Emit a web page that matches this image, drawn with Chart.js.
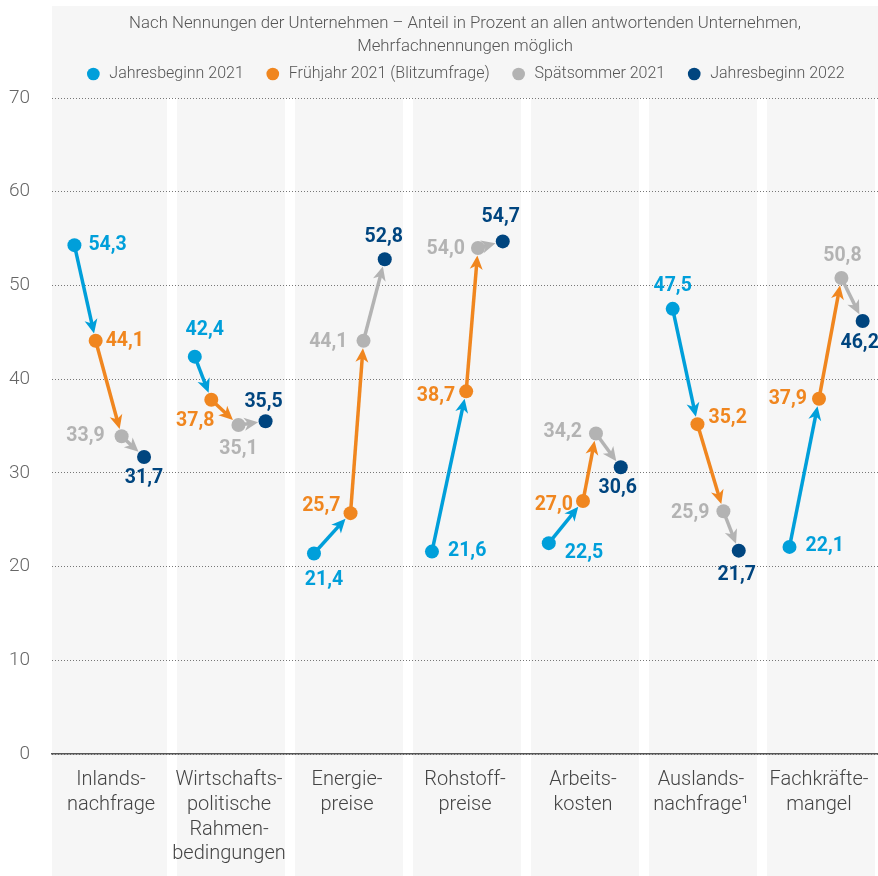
<!DOCTYPE html>
<html lang="de">
<head>
<meta charset="utf-8">
<title>Hemmnisse der Geschäftsentwicklung</title>
<script src="https://cdn.jsdelivr.net/npm/chart.js@4.4.1/dist/chart.umd.min.js"></script>
<style>
  html, body { margin: 0; padding: 0; background: #fff; }
  #wrap { width: 878px; height: 876px; position: relative; }
</style>
</head>
<body>
<div id="wrap"><canvas id="chart"></canvas></div>
<script>
// ===============================
// Daten
// ===============================
const categories = [
  ["Inlands-", "nachfrage"],
  ["Wirtschafts-", "politische", "Rahmen-", "bedingungen"],
  ["Energie-", "preise"],
  ["Rohstoff-", "preise"],
  ["Arbeits-", "kosten"],
  ["Auslands-", "nachfrage¹"],
  ["Fachkräfte-", "mangel"]
];
const seriesNames = ["Jahresbeginn 2021", "Frühjahr 2021 (Blitzumfrage)", "Spätsommer 2021", "Jahresbeginn 2022"];
const jahresbeginn2021 = [54.3, 42.4, 21.4, 21.6, 22.5, 47.5, 22.1];
const fruehjahr2021 = [44.1, 37.8, 25.7, 38.7, 27.0, 35.2, 37.9];
const spaetsommer2021 = [33.9, 35.1, 44.1, 54.0, 34.2, 25.9, 50.8];
const jahresbeginn2022 = [31.7, 35.5, 52.8, 54.7, 30.6, 21.7, 46.2];
const yTicks = [0, 10, 20, 30, 40, 50, 60, 70];
const titleLines = [
  "Nach Nennungen der Unternehmen – Anteil in Prozent an allen antwortenden Unternehmen,",
  "Mehrfachnennungen möglich"
];

// ===============================
// Layout / Stil
// ===============================
const colors = ["#009fda", "#f0861f", "#b3b3b3", "#00457f"];
const lightFont = "Roboto, 'Open Sans', sans-serif";

// horizontale Lage der Punkte innerhalb einer Kategorie (Anteil der Kategoriebreite)
const pointOffsets = [
  [-0.31, -0.13, 0.09, 0.28],
  [-0.29, -0.15, 0.08, 0.31],
  [-0.28, 0.03, 0.14, 0.32],
  [-0.28, 0.01, 0.11, 0.32],
  [-0.29, 0.00, 0.11, 0.32],
  [-0.24, -0.03, 0.19, 0.32],
  [-0.25, 0.00, 0.19, 0.37]
];

// Beschriftung je Reihe und Kategorie: [Ausrichtung, dx, dy]
const labelPlacement = [
  [["l", 14, 0], ["c", 10, -27], ["c", 10, 27], ["l", 16, 0], ["l", 16, 10], ["c", 0, -23], ["l", 16, -1]],
  [["l", 10, 0], ["c", -16, 21], ["r", -10, -7], ["r", -11, 5], ["r", -10, 4], ["l", 11, -6], ["r", -12, 0]],
  [["r", -17, 0], ["c", 0, 24], ["r", -16, 1], ["r", -13, 1], ["r", -14, -1], ["r", -14, 2], ["c", 1, -22]],
  [["c", 0, 21], ["c", -2, -19], ["c", -1, -22], ["c", -2, -24], ["c", -3, 21], ["c", -2, 24], ["c", -3, 22]]
];

const allSeries = [jahresbeginn2021, fruehjahr2021, spaetsommer2021, jahresbeginn2022];

// ===============================
// Plugins
// ===============================
const panelPlugin = {
  id: "panels",
  beforeDraw(chart) {
    const { ctx, chartArea, scales } = chart;
    const x = scales.x;
    ctx.save();
    ctx.fillStyle = "#f6f6f6";
    ctx.fillRect(chartArea.left, 6, chartArea.right - chartArea.left, chartArea.top - 6);
    categories.forEach((c, i) => {
      const a = x.getPixelForValue(i - 0.5);
      const b = x.getPixelForValue(i + 0.5);
      const x0 = i === 0 ? a : a + 7;
      ctx.fillRect(x0, chartArea.top, (b - 3) - x0, chart.height - chartArea.top);
    });
    // Untertitel, über der Zeichenfläche zentriert
    ctx.fillStyle = "#555";
    ctx.font = "300 16.8px " + lightFont;
    ctx.textAlign = "center";
    ctx.textBaseline = "middle";
    const cx = (chartArea.left + chartArea.right) / 2;
    titleLines.forEach((t, k) => ctx.fillText(t, cx, 24 + k * 23));
    ctx.restore();
  }
};

const arrowPlugin = {
  id: "arrows",
  beforeDatasetsDraw(chart) {
    const ctx = chart.ctx;
    const r = 7;
    for (let s = 0; s < allSeries.length - 1; s++) {
      const from = chart.getDatasetMeta(s).data;
      const to = chart.getDatasetMeta(s + 1).data;
      from.forEach((p, i) => {
        const q = to[i];
        const dx = q.x - p.x, dy = q.y - p.y;
        const len = Math.hypot(dx, dy);
        const ux = dx / len, uy = dy / len;
        const tipX = q.x - ux * (r + 0.5), tipY = q.y - uy * (r + 0.5);
        const headLen = 14, headW = 6.5;
        const baseX = tipX - ux * headLen, baseY = tipY - uy * headLen;
        ctx.save();
        ctx.strokeStyle = colors[s];
        ctx.fillStyle = colors[s];
        ctx.lineWidth = 3.5;
        ctx.beginPath();
        ctx.moveTo(p.x, p.y);
        ctx.lineTo(tipX - ux * headLen * 0.6, tipY - uy * headLen * 0.6);
        ctx.stroke();
        ctx.beginPath();
        ctx.moveTo(tipX, tipY);
        ctx.lineTo(baseX - uy * headW, baseY + ux * headW);
        ctx.lineTo(tipX - ux * headLen * 0.72, tipY - uy * headLen * 0.72);
        ctx.lineTo(baseX + uy * headW, baseY - ux * headW);
        ctx.closePath();
        ctx.fill();
        ctx.restore();
      });
    }
  }
};

const valueLabelPlugin = {
  id: "valueLabels",
  afterDatasetsDraw(chart) {
    const ctx = chart.ctx;
    ctx.save();
    ctx.font = "bold 19.5px Roboto, 'Open Sans', sans-serif";
    ctx.textBaseline = "middle";
    allSeries.forEach((values, s) => {
      const pts = chart.getDatasetMeta(s).data;
      values.forEach((v, i) => {
        const [al, dx, dy] = labelPlacement[s][i];
        ctx.fillStyle = colors[s];
        ctx.textAlign = al === "l" ? "left" : al === "r" ? "right" : "center";
        ctx.fillText(v.toFixed(1).replace(".", ","), pts[i].x + dx, pts[i].y + dy);
      });
    });
    ctx.restore();
  }
};

// ===============================
// Chart
// ===============================
const datasets = allSeries.map((values, s) => ({
  label: seriesNames[s],
  data: values.map((v, i) => ({ x: i + pointOffsets[i][s], y: v })),
  backgroundColor: colors[s],
  borderColor: colors[s],
  pointRadius: 7,
  pointBorderWidth: 0,
  pointStyle: "circle",
  showLine: false,
  clip: false
}));

new Chart(document.getElementById("chart"), {
  type: "scatter",
  data: { datasets },
  plugins: [panelPlugin, arrowPlugin, valueLabelPlugin],
  options: {
    responsive: true,
    maintainAspectRatio: false,
    animation: false,
    events: [],
    layout: { autoPadding: false, padding: { top: 45, left: 0, right: 0, bottom: 0 } },
    plugins: {
      tooltip: { enabled: false },
      title: { display: false },
      legend: {
        position: "top",
        fullSize: false,
        labels: {
          usePointStyle: true,
          pointStyle: "circle",
          boxWidth: 16,
          boxHeight: 9,
          padding: 21,
          color: "#555",
          font: { family: lightFont, size: 16, weight: "300" }
        }
      }
    },
    scales: {
      x: {
        type: "linear",
        min: -0.5,
        max: 6.5,
        afterBuildTicks: (scale) => {
          scale.ticks = categories.map((c, i) => ({ value: i }));
        },
        afterFit: (scale) => {
          scale.height = 122;
          scale.paddingLeft = 0;
          scale.paddingRight = 0;
        },
        grid: { display: false, drawTicks: false },
        border: { display: true, color: "#555", width: 1.5 },
        ticks: {
          autoSkip: false,
          maxRotation: 0,
          minRotation: 0,
          padding: 14,
          color: "#444",
          font: { family: lightFont, size: 20, weight: "300", lineHeight: 1.23 },
          callback: (v) => categories[v]
        }
      },
      // leere Abstandsachse zwischen Legende und Zeichenfläche
      gap: {
        type: "linear",
        position: "top",
        display: true,
        grid: { display: false, drawTicks: false },
        border: { display: false },
        ticks: { display: false },
        afterFit: (scale) => { scale.height = 6; }
      },
      y: {
        min: 0,
        max: 70,
        afterBuildTicks: (scale) => {
          scale.ticks = yTicks.map(v => ({ value: v }));
        },
        afterFit: (scale) => {
          scale.width = 52;
          scale.paddingTop = 0;
          scale.paddingBottom = 0;
        },
        grid: { color: "#777", lineWidth: 1, drawTicks: false },
        border: { display: false, dash: [1, 2] },
        ticks: {
          padding: 22,
          color: "#666",
          font: { family: lightFont, size: 19, weight: "300" }
        }
      }
    }
  }
});
</script>
</body>
</html>
